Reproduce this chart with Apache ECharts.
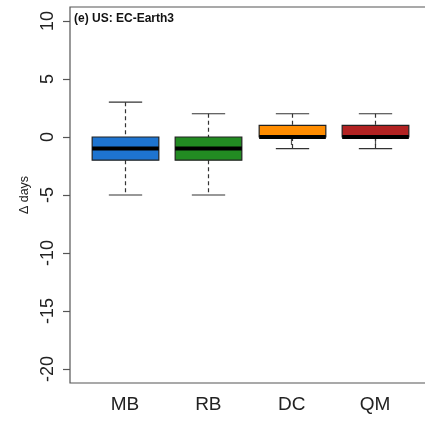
<!DOCTYPE html>
<html>
<head>
<meta charset="utf-8">
<script src="https://cdn.jsdelivr.net/npm/echarts@6/dist/echarts.min.js"></script>
<style>
html,body{margin:0;padding:0;background:#fff;}
#c{width:425px;height:422px;}
</style>
</head>
<body>
<div id="c"></div>
<script>
const categories = ['MB', 'RB', 'DC', 'QM'];
const whiskerLow = [-5, -5, -1, -1];
const q1 = [-2, -2, 0, 0];
const medians = [-1, -1, 0, 0];
const q3 = [0, 0, 1, 1];
const whiskerHigh = [3, 2, 2, 2];
const boxColors = ['#1E74D0', '#228B22', '#FF8C00', '#B22222'];
const yTicks = [-20, -15, -10, -5, 0, 5, 10];
const panelLabel = '(e) US: EC-Earth3';
const yName = 'Δ days';

const data = categories.map((c, i) => [i + 1, whiskerLow[i], q1[i], medians[i], q3[i], whiskerHigh[i], i]);

const chart = echarts.init(document.getElementById('c'), null, {renderer: 'canvas'});
const FONT = 'Liberation Sans, Arial, Helvetica, sans-serif';

function renderItem(params, api) {
  const x = api.value(0);
  const lo = api.coord([x, api.value(1)]);
  const b1 = api.coord([x, api.value(2)]);
  const md = api.coord([x, api.value(3)]);
  const b3 = api.coord([x, api.value(4)]);
  const hi = api.coord([x, api.value(5)]);
  const w = api.size([0.8, 0])[0];
  const hw = w / 2, sw = w / 4;
  const cx = Math.round(lo[0]) + 0.5;
  const col = boxColors[api.value(6)];
  const lineCol = '#333';
  return {
    type: 'group',
    children: [
      {type: 'line', shape: {x1: cx, y1: hi[1], x2: cx, y2: b3[1]}, style: {stroke: lineCol, lineWidth: 1.2, lineDash: [4, 3]}},
      {type: 'line', shape: {x1: cx, y1: b1[1], x2: cx, y2: lo[1]}, style: {stroke: lineCol, lineWidth: 1.2, lineDash: [4, 3]}},
      {type: 'line', shape: {x1: cx - sw, y1: hi[1], x2: cx + sw, y2: hi[1]}, style: {stroke: lineCol, lineWidth: 1.2}},
      {type: 'line', shape: {x1: cx - sw, y1: lo[1], x2: cx + sw, y2: lo[1]}, style: {stroke: lineCol, lineWidth: 1.2}},
      {type: 'rect', shape: {x: cx - hw, y: b3[1], width: w, height: b1[1] - b3[1]}, style: {fill: col, stroke: '#222', lineWidth: 1.2}},
      {type: 'line', shape: {x1: cx - hw, y1: md[1], x2: cx + hw, y2: md[1]}, style: {stroke: '#000', lineWidth: 4}}
    ]
  };
}

chart.setOption({
  animation: false,
  backgroundColor: '#fff',
  grid: {left: 70, top: 7, width: 360, height: 376, show: true, borderColor: '#555', borderWidth: 1.2, containLabel: false, outerBoundsMode: 'none'},
  xAxis: {
    type: 'value', min: 0.34, max: 4.66,
    axisLine: {show: false},
    splitLine: {show: false},
    axisTick: {show: true, customValues: [1, 2, 3, 4], length: 8, lineStyle: {color: '#555', width: 1.2}},
    axisLabel: {customValues: [1, 2, 3, 4], formatter: v => categories[Math.round(v) - 1] || '', fontSize: 19, color: '#222', fontFamily: FONT, margin: 12}
  },
  yAxis: {
    type: 'value', min: -21.2, max: 11.2,
    name: yName, nameLocation: 'middle', nameRotate: 90, nameGap: 38,
    nameTextStyle: {fontSize: 12.5, color: '#222', fontFamily: FONT},
    axisLine: {show: false},
    splitLine: {show: false},
    axisTick: {show: true, customValues: yTicks, length: 7, lineStyle: {color: '#555', width: 1.2}},
    axisLabel: {customValues: yTicks, rotate: 90, fontSize: 18, color: '#222', fontFamily: FONT, margin: 13}
  },
  graphic: [{type: 'text', left: 74, top: 13, style: {text: panelLabel, font: 'bold 12px ' + FONT, fill: '#111'}}],
  series: [{type: 'custom', renderItem: renderItem, data: data, encode: {x: 0, y: [1, 2, 3, 4, 5]}, clip: false}]
});
</script>
</body>
</html>
